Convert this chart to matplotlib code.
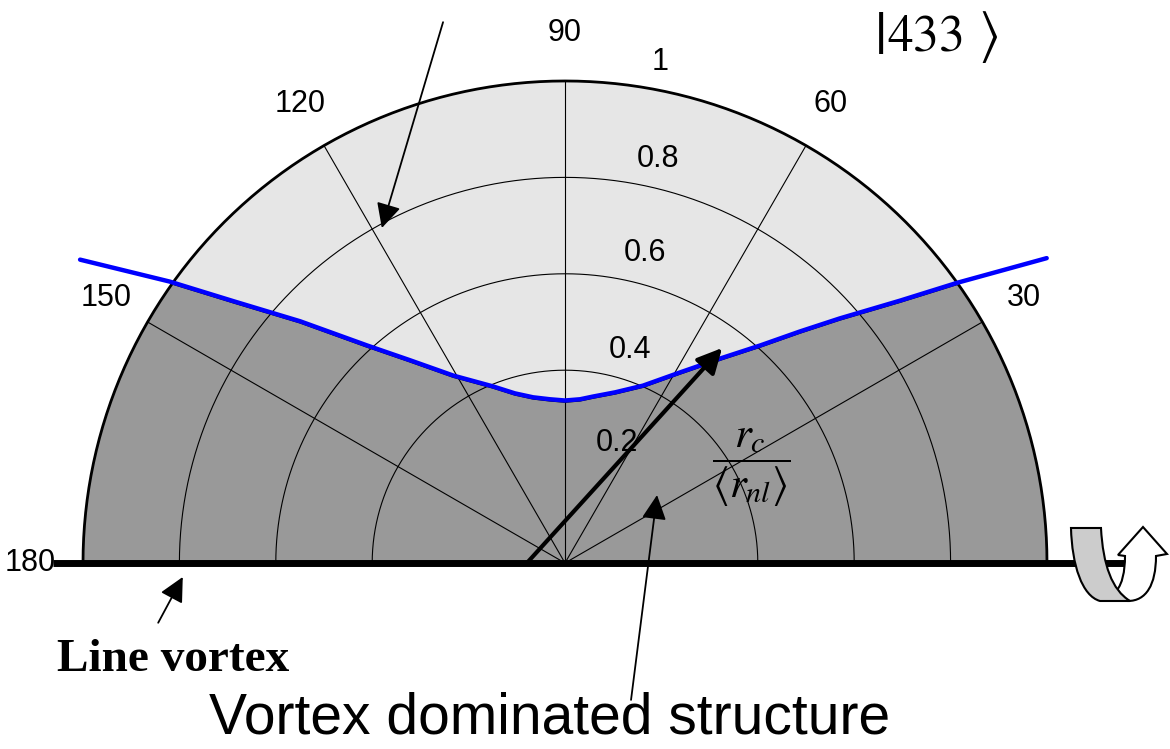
import numpy as np
import matplotlib
matplotlib.use("Agg")
import matplotlib.pyplot as plt
from matplotlib.patches import Wedge, Polygon, PathPatch
from matplotlib.path import Path
from matplotlib.transforms import offset_copy

# boundary curve r_c/<r_nl> against polar angle (deg)
theta_deg = [148.1, 144.7, 141.8, 137.8, 132.5, 127.6, 121.0, 112.4, 106.6,
             101.0, 95.3, 90.0, 84.7, 80.4, 73.5, 66.1, 58.7, 52.6, 47.9,
             44.4, 41.5, 37.9, 35.4, 32.2]
r_ratio = [1.185, 1.005, 0.872, 0.742, 0.608, 0.527, 0.450, 0.393, 0.364,
           0.347, 0.338, 0.334, 0.338, 0.347, 0.366, 0.399, 0.459, 0.530, 0.604,
           0.682, 0.761, 0.881, 0.998, 1.181]

ring_r = [0.4, 0.6, 0.8]
spoke_deg = [30, 60, 90, 120, 150]
angle_ticks = [30, 60, 90, 120, 150, 180]
radial_labels = ['0.2', '0.4', '0.6', '0.8', '1']
# where the radial labels sit (angle deg, radius)
radial_label_pos = [(66.6, 0.271), (73.0, 0.462), (75.5, 0.664), (77.0, 0.860), (79.3, 1.058)]

plt.rcParams['mathtext.fontset'] = 'stix'
SANS = 'Liberation Sans'
SERIF = 'Liberation Serif'

fig = plt.figure(figsize=(11.7, 7.49), dpi=100)
ax = fig.add_axes([0, 0, 1, 1])
ax.set_xlim(-1.1722, 1.2552)
ax.set_ylim(-0.3859, 1.1680)
ax.axis('off')


def pol(deg, r):
    a = np.radians(deg)
    return r * np.cos(a), r * np.sin(a)


# light half disc
half = Wedge((0, 0), 1.0, 0, 180, facecolor='#e6e6e6', edgecolor='none', zorder=1)
ax.add_patch(half)

# dark region under the curve, clipped by the half disc
cx, cy = pol(np.array(theta_deg), np.array(r_ratio))
verts = list(zip(cx, cy)) + [(1.4, cy[-1]), (1.4, 0), (-1.4, 0), (-1.4, cy[0])]
dark = Polygon(verts, closed=True, facecolor='#999999', edgecolor='black', lw=1.2, zorder=2)
ax.add_patch(dark)
dark.set_clip_path(half)

# grid
t = np.linspace(0, 180, 361)
for r in ring_r:
    gx, gy = pol(t, r)
    ax.plot(gx, gy, color='black', lw=0.8, zorder=3)
ox, oy = pol(t, 1.0)
ax.plot(ox, oy, color='black', lw=2.0, zorder=3)
for a in spoke_deg:
    sx, sy = pol(a, 1.0)
    ax.plot([0, sx], [0, sy], color='black', lw=0.8, zorder=3)

# boundary line
ax.plot(cx, cy, color='#0000ff', lw=3.2, zorder=4, solid_capstyle='round',
        solid_joinstyle='round',
        transform=offset_copy(ax.transData, fig=fig, y=1.5, units='dots'))

# angle labels
for a in angle_ticks:
    lx, ly = pol(a, 1.11 if a == 180 else 1.10)
    ax.text(lx, ly, str(a), fontsize=22, family=SANS, ha='center', va='center', zorder=6)
for lab, (a, r) in zip(radial_labels, radial_label_pos):
    lx, ly = pol(a, r)
    ax.text(lx, ly, lab, fontsize=22, family=SANS, ha='center', va='center', zorder=6)

# line vortex (axis)
ax.plot([-1.062, 1.162], [0, 0], color='black', lw=5, solid_capstyle='butt', zorder=5)

# arrows
thin = dict(arrowstyle='-|>,head_length=0.6,head_width=0.3', color='black', lw=1.3,
            mutation_scale=25, shrinkA=0, shrinkB=0)
thick = dict(arrowstyle='-|>,head_length=0.6,head_width=0.3', color='black', lw=3,
             mutation_scale=25, shrinkA=0, shrinkB=0)
ax.annotate('', xy=(-0.380, 0.695), xytext=(-0.253, 1.122), arrowprops=thin, zorder=7)
ax.annotate('', xy=(0.326, 0.446), xytext=(-0.079, 0.0), arrowprops=thick, zorder=7)
ax.annotate('', xy=(0.191, 0.141), xytext=(0.137, -0.284), arrowprops=thin, zorder=7)
ax.annotate('', xy=(-0.793, -0.029), xytext=(-0.844, -0.124), arrowprops=thin, zorder=7)

# texts
ax.text(-0.813, -0.201, 'Line vortex', family=SERIF, fontweight='bold', fontsize=34,
        ha='center', va='center')
ax.text(-0.033, -0.322, 'Vortex dominated structure', family=SANS, fontsize=41,
        ha='center', va='center')
# ket |433>
ax.text(0.651, 1.090, r'$|$', fontsize=44, ha='center', va='center')
ax.text(0.747, 1.092, r'$433$', fontsize=37, ha='center', va='center')
ax.text(0.877, 1.092, r'$\rangle$', fontsize=40, ha='center', va='center')
ax.text(0.386, 0.197, r'$\dfrac{r_c}{\left\langle r_{nl}\right\rangle}$', fontsize=31,
        ha='center', va='center', zorder=6)


# rotation symbol at the right end of the axis (drawn in pixel positions)
def px(x, y):
    return ((x - 565) / 482.0, (563 - y) / 482.0)


M, L, C, Z = Path.MOVETO, Path.LINETO, Path.CURVE4, Path.CLOSEPOLY
arrow_pts = [(1128, 601), (1146, 601), (1156, 585), (1156, 556),
             (1167, 554), (1143, 527), (1118, 555), (1125, 556),
             (1125, 572), (1122, 584), (1117, 590), (1128, 601)]
arrow_codes = [M, C, C, C, L, L, L, L, C, C, C, Z]
white = PathPatch(Path([px(*p) for p in arrow_pts], arrow_codes), facecolor='white',
                  edgecolor='black', lw=1.5, zorder=8)
ax.add_patch(white)
band_pts = [(1071, 528), (1101, 528), (1103, 565), (1112, 590), (1130, 601),
            (1100, 601), (1082, 596), (1072, 565), (1071, 528), (1071, 528)]
band_codes = [M, L, C, C, C, L, C, C, C, Z]
band = PathPatch(Path([px(*p) for p in band_pts], band_codes), facecolor='#cccccc',
                 edgecolor='black', lw=1.5, zorder=9)
ax.add_patch(band)

fig.savefig('out.png', dpi=100)
